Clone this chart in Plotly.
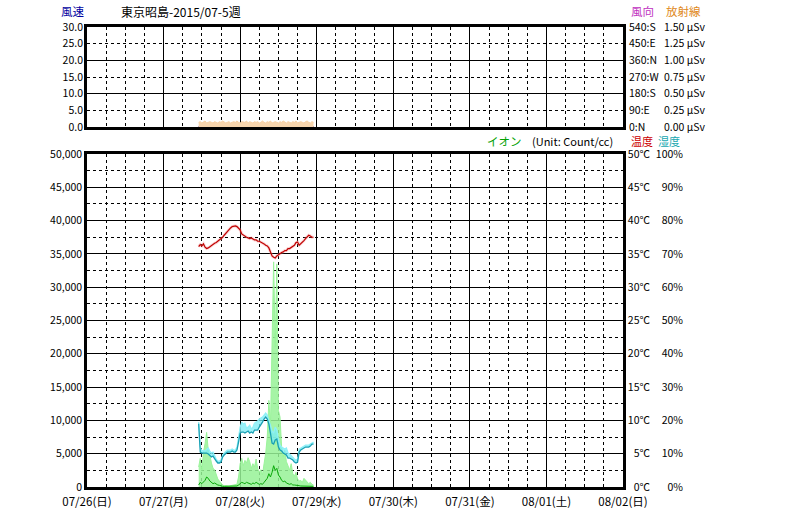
import pandas as pd
import plotly.graph_objects as go

# ---------------- data ----------------
start_time = "2015-07-27 11:00"
step = "30min"

ion_peak = [
    3000, 4300, 2500, 5200, 6500, 8200, 5500, 4800, 3600, 2800, 2600, 1800,
    1200, 900, 500, 300, 200, 250, 200, 150, 200, 150, 200, 300,
    400, 1500, 3500, 4300, 3200, 4000, 3600, 4400, 3800, 2800, 3500, 3000,
    4200, 2800, 2200, 2600, 1800, 3500, 5000, 7500, 13000, 9000, 22000, 33800,
    21000, 33500, 11500, 10500, 6000, 4500, 5500, 3800, 3200, 2500, 3500, 2000,
    1600, 2200, 1200, 900, 1000, 700, 1300, 1000, 800, 500, 700, 400,
    300,
]
ion_mean = [
    300, 700, 500, 800, 1000, 1500, 1300, 900, 700, 500, 600, 400,
    300, 250, 150, 100, 100, 100, 100, 80, 100, 80, 100, 100,
    150, 300, 500, 700, 600, 500, 700, 600, 500, 400, 600, 500,
    700, 500, 400, 500, 400, 700, 1000, 1300, 2000, 1500, 2200, 3200,
    2500, 2800, 1800, 1500, 1000, 800, 900, 600, 500, 400, 500, 300,
    300, 300, 200, 200, 150, 150, 200, 150, 100, 100, 100, 100,
    100,
]
humidity = [
    19.0, 10.5, 10.2, 10.2, 10.0, 10.2, 9.9, 9.3, 9.0, 9.3, 8.4, 7.8,
    7.2, 7.2, 7.5, 9.0, 9.6, 10.2, 10.5, 10.5, 10.5, 10.8, 10.5, 10.5,
    11.1, 13.5, 16.2, 16.5, 16.5, 16.2, 16.5, 16.8, 16.2, 16.5, 16.2, 17.1,
    17.1, 17.1, 18.0, 18.6, 19.5, 20.4, 21.0, 20.4, 18.9, 16.2, 13.2, 12.9,
    14.1, 14.4, 12.0, 11.1, 10.8, 10.2, 9.9, 9.6, 8.7, 8.7, 8.4, 8.1,
    7.5, 7.2, 7.5, 10.5, 11.1, 11.4, 11.7, 12.0, 12.0, 12.0, 12.3, 12.9,
    12.9,
]
humidity_max = [
    19.5, 12.0, 10.8, 11.0, 10.8, 11.4, 11.7, 10.8, 10.2, 10.5, 9.3, 8.4,
    7.8, 7.8, 8.1, 9.6, 10.2, 10.8, 11.1, 11.1, 11.1, 11.4, 11.1, 11.1,
    12.0, 15.0, 18.0, 19.5, 18.9, 19.2, 17.7, 18.0, 18.6, 17.4, 18.0, 19.2,
    19.5, 19.8, 20.4, 20.7, 21.0, 21.6, 22.2, 21.6, 20.4, 18.6, 16.8, 16.2,
    18.0, 17.1, 14.4, 12.6, 12.0, 11.7, 11.4, 11.7, 10.2, 9.9, 9.3, 9.0,
    8.4, 8.1, 8.4, 11.4, 11.7, 12.0, 12.3, 12.6, 12.6, 12.6, 12.9, 13.2,
    13.5,
]
temperature = [
    36.1, 36.4, 36.2, 36.5, 36.0, 35.8, 35.9, 36.1, 36.2, 36.4, 36.6, 36.7,
    36.9, 37.0, 37.3, 37.5, 37.8, 38.1, 38.4, 38.7, 38.9, 39.1, 39.2, 39.2,
    39.1, 38.9, 38.6, 38.0, 37.8, 37.6, 37.5, 37.4, 37.3, 37.4, 37.2, 37.1,
    37.1, 36.9, 36.9, 36.8, 36.6, 36.5, 36.3, 36.2, 35.9, 35.4, 34.7, 34.5,
    34.4, 34.7, 34.9, 35.1, 35.2, 35.3, 35.5, 35.5, 35.8, 35.8, 36.0, 36.1,
    36.3, 36.7, 36.8, 36.3, 36.5, 36.8, 37.0, 37.3, 37.5, 37.8, 37.7, 37.5,
    37.5,
]
radiation = [
    0.07, 0.08, 0.06, 0.07, 0.09, 0.06, 0.07, 0.08, 0.07, 0.06, 0.08, 0.07,
    0.06, 0.08, 0.07, 0.09, 0.07, 0.06, 0.07, 0.08, 0.06, 0.07, 0.08, 0.07,
    0.09, 0.07, 0.06, 0.08, 0.07, 0.07, 0.09, 0.06, 0.08, 0.07, 0.06, 0.08,
    0.07, 0.08, 0.06, 0.07, 0.09, 0.07, 0.06, 0.08, 0.07, 0.09, 0.06, 0.07,
    0.08, 0.07, 0.06, 0.08, 0.07, 0.09, 0.07, 0.06, 0.08, 0.07, 0.06, 0.08,
    0.07, 0.09, 0.06, 0.07, 0.08, 0.07, 0.06, 0.08, 0.09, 0.07, 0.06, 0.08,
    0.07,
]
wind_speed = [0.0] * 73
wind_direction = [0.0] * 73

day_ticks = ["2015-07-26", "2015-07-27", "2015-07-28", "2015-07-29",
             "2015-07-30", "2015-07-31", "2015-08-01", "2015-08-02"]
day_labels = ["07/26(日)", "07/27(月)", "07/28(火)", "07/29(水)",
              "07/30(木)", "07/31(金)", "08/01(土)", "08/02(日)"]

dir_vals = [0, 90, 180, 270, 360, 450, 540]
dir_labels = ["0:N", "90:E", "180:S", "270:W", "360:N", "450:E", "540:S"]
rad_vals = [0, 0.25, 0.5, 0.75, 1.0, 1.25, 1.5]
rad_labels = ["0.00 µSv", "0.25 µSv", "0.50 µSv", "0.75 µSv",
              "1.00 µSv", "1.25 µSv", "1.50 µSv"]

title_text = "東京昭島-2015/07-5週"

# ---------------- figure ----------------
W, H = 790, 520
def px(x):
    return x / W
def py(y):
    return 1 - y / H

def times(n):
    return pd.date_range(start_time, periods=n, freq=step)

FONT = "Noto Sans CJK JP"
TICK = 10.5
fig = go.Figure()

# top panel (base axis y carries the grid; y5 carries the wind-speed labels)
fig.add_trace(go.Scatter(x=times(len(wind_speed)), y=wind_speed, xaxis="x2", yaxis="y",
                         mode="lines", line=dict(color="#4040a0", width=1)))
fig.add_trace(go.Scatter(x=times(len(radiation)), y=radiation, xaxis="x2", yaxis="y7",
                         mode="lines", line=dict(color="#f8d2a6", width=1),
                         fill="tozeroy", fillcolor="#f8d6ae", hoverinfo="skip"))
fig.add_trace(go.Scatter(x=times(len(wind_direction)), y=wind_direction, xaxis="x2", yaxis="y6",
                         mode="lines", line=dict(color="#9a4aa0", width=2)))
fig.add_trace(go.Scatter(x=times(len(wind_speed)), y=wind_speed, xaxis="x2", yaxis="y5",
                         mode="lines", line=dict(color="#4040a0", width=1)))

# bottom panel
fig.add_trace(go.Scatter(x=times(len(ion_peak)), y=ion_peak, xaxis="x", yaxis="y2",
                         mode="lines", line=dict(color="#9af49a", width=1),
                         fill="tozeroy", fillcolor="rgba(150,242,150,0.85)"))
fig.add_trace(go.Scatter(x=times(len(ion_mean)), y=ion_mean, xaxis="x", yaxis="y2",
                         mode="lines", line=dict(color="#08a808", width=1)))
fig.add_trace(go.Scatter(x=times(len(humidity_max)), y=humidity_max, xaxis="x", yaxis="y4",
                         mode="lines", line=dict(color="#8ef0f8", width=1.2)))
fig.add_trace(go.Scatter(x=times(len(humidity)), y=humidity, xaxis="x", yaxis="y4",
                         mode="lines", line=dict(color="#1aa0b4", width=1.3),
                         fill="tonexty", fillcolor="rgba(120,236,246,0.75)"))
fig.add_trace(go.Scatter(x=times(len(temperature)), y=temperature, xaxis="x", yaxis="y3",
                         mode="lines", line=dict(color="rgba(240,140,140,0.35)", width=3)))
fig.add_trace(go.Scatter(x=times(len(temperature)), y=temperature, xaxis="x", yaxis="y3",
                         mode="lines", line=dict(color="#c00000", width=1.2)))

grid_dash = "3px,3px"
common_x = dict(
    domain=[px(87), px(623)],
    range=["2015-07-26", "2015-08-02"],
    type="date",
    tickmode="array", tickvals=day_ticks, ticktext=day_labels,
    showgrid=True, gridcolor="black", gridwidth=1,
    minor=dict(dtick=6 * 3600 * 1000, tick0="2015-07-26", showgrid=True,
               gridcolor="black", gridwidth=1, griddash=grid_dash),
    showline=True, mirror=True, linecolor="black", linewidth=2.5,
    ticks="", zeroline=False, automargin=False,
)
label_axis = dict(showgrid=False, zeroline=False, showline=False, ticks="",
                  automargin=False, tickfont=dict(size=TICK))

fig.update_layout(
    width=W, height=H,
    margin=dict(l=0, r=0, t=0, b=0, autoexpand=False),
    paper_bgcolor="white", plot_bgcolor="white",
    showlegend=False,
    font=dict(family=FONT, size=TICK, color="black"),
    xaxis=dict(common_x, anchor="y2", showticklabels=True,
               tickfont=dict(size=11.5), ticklabelstandoff=2),
    xaxis2=dict(common_x, anchor="y", matches="x", showticklabels=False),
    yaxis=dict(domain=[py(127), py(27)], range=[0, 30], anchor="x2",
               tickmode="linear", tick0=0, dtick=10, showticklabels=False,
               showgrid=True, gridcolor="black", gridwidth=1, zeroline=False,
               minor=dict(dtick=5, tick0=0, showgrid=True, gridcolor="black",
                          gridwidth=1, griddash=grid_dash),
               ticks="", automargin=False,
               showline=True, mirror=True, linecolor="black", linewidth=2.5),
    yaxis5=dict(label_axis, overlaying="y", range=[0, 30], side="left",
                anchor="free", position=px(83),
                tickmode="linear", tick0=0, dtick=5, tickformat=".1f"),
    yaxis6=dict(label_axis, overlaying="y", range=[0, 540], side="right",
                anchor="free", position=px(628), tickmode="array",
                tickvals=dir_vals, ticktext=dir_labels),
    yaxis7=dict(label_axis, overlaying="y", range=[0, 1.5], side="right",
                anchor="free", position=px(663), tickmode="array",
                tickvals=rad_vals, ticktext=rad_labels),
    yaxis2=dict(domain=[py(487), py(154)], range=[0, 50000], anchor="x",
                tickmode="linear", tick0=0, dtick=5000, tickformat=",d",
                showgrid=True, gridcolor="black", gridwidth=1, zeroline=False,
                minor=dict(dtick=2500, tick0=0, showgrid=True, gridcolor="black",
                           gridwidth=1, griddash=grid_dash),
                ticks="", showline=True, mirror=True, linecolor="black",
                linewidth=2.5, automargin=False, tickfont=dict(size=TICK)),
    yaxis3=dict(label_axis, overlaying="y2", range=[0, 50], side="left",
                anchor="free", position=px(650), tickmode="linear", tick0=0,
                dtick=5, ticksuffix="℃"),
    yaxis4=dict(label_axis, overlaying="y2", range=[0, 100], side="left",
                anchor="free", position=px(683), tickmode="linear", tick0=0,
                dtick=10, ticksuffix="%"),
)

def label(text, x, y, color, anchor="left", size=12):
    fig.add_annotation(text=text, x=px(x), y=py(y), xref="paper", yref="paper",
                       xanchor=anchor, yanchor="middle", showarrow=False,
                       font=dict(family=FONT, size=size, color=color))

label("風速", 59, 11, "#0000a0", size=11.5)
label(title_text, 119, 11, "black")
label("風向", 629, 11, "#c030c0", size=11.5)
label("放射線", 664, 11, "#e08820", size=11.5)
label("イオン", 485, 141, "#00a000", size=11.5)
label("(Unit: Count/cc)", 530, 141, "black", size=11)
label("温度", 629, 141, "#cc0000", size=11)
label("湿度", 656, 141, "#20a8b0", size=11)

fig.write_html("out.html", config={"displayModeBar": False},
               post_script="document.body.style.margin='0';")
